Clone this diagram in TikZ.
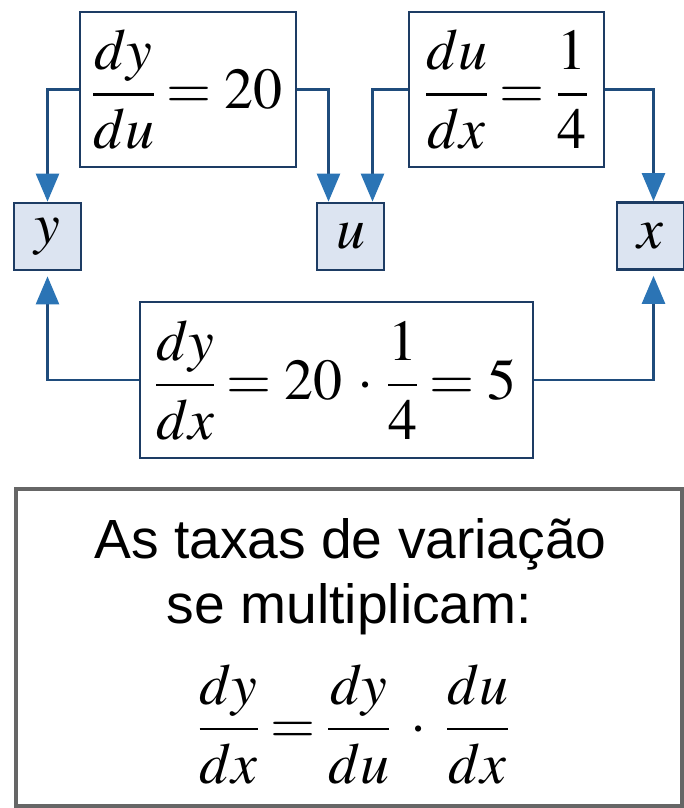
\documentclass[tikz,border=0pt]{standalone}
\usepackage{amsmath}
\usepackage{mathptmx}
\usepackage[no-math]{fontspec}
\newfontfamily\arialfont{Liberation Sans}
\usepackage{tikz}
\usetikzlibrary{arrows.meta}
\definecolor{navy}{HTML}{1D3C64}
\definecolor{linkblue}{HTML}{1F4C7C}
\definecolor{tipblue}{HTML}{2B74B5}
\definecolor{cellfill}{HTML}{DCE4F1}
\definecolor{framegray}{HTML}{666666}
\nulldelimiterspace=0pt

\begin{document}
\begin{tikzpicture}[x=0.5pt, y=-0.5pt,
  >={Triangle[length=14pt, width=11.5pt, color=tipblue]},
  font=\fontsize{29}{34}\selectfont,
  box/.style={draw=navy, line width=1.35pt, inner sep=0pt, align=center},
  var/.style={box, fill=cellfill, minimum width=33.5pt, minimum height=33.5pt},
  link/.style={->, draw=linkblue, line width=1.3pt},
  rulebox/.style={draw=framegray, line width=2pt, minimum width=333pt, minimum height=158.5pt},
  words/.style={font=\arialfont\fontsize{27.6}{33}\selectfont, anchor=base}]
\useasboundingbox (0,0) rectangle (684,808);
% the three variables
\node[var] (y) at (47.5,236.5) {$y$};
\node[var] (u) at (350.5,236.5) {$u$};
\node[var] (x) at (650.5,236) {$x$};
% the rates of change
\node[box, minimum width=108pt, minimum height=77.5pt] (dydu) at (188,89.5)
  {$\dfrac{dy}{du} = 20$};
\node[box, minimum width=97.5pt, minimum height=77.5pt] (dudx) at (506.5,89.5)
  {$\dfrac{du}{dx} = \dfrac{1}{4}$};
\node[box, minimum width=196.5pt, minimum height=78pt] (dydx) at (336.5,380)
  {$\dfrac{dy}{dx} = 20 \,\cdot\, \dfrac{1}{4} = 5$};
\draw[link] (dydu.west) -| (y.north);
\draw[link] (dydu.east) -| ([xshift=-11pt]u.north);
\draw[link] (dudx.west) -| ([xshift=11pt]u.north);
\draw[link] (dudx.east) -| ([xshift=1.5pt]x.north);
\draw[link, shorten >=2.5pt] (dydx.west) -| (y.south);
\draw[link, shorten >=2.5pt] (dydx.east) -| ([xshift=1.5pt]x.south);
% the rule
\node[rulebox] (rule) at (349,647.5) {};
\node[words] (line1) at (350.5,558) {As taxas de variação};
\node[words] (line2) at (349.5,623) {se multiplicam:};
\node (chain) at (354,724)
  {$\dfrac{dy}{dx} = \dfrac{dy}{du} \;\cdot\; \dfrac{du}{dx}$};
\end{tikzpicture}
\end{document}
